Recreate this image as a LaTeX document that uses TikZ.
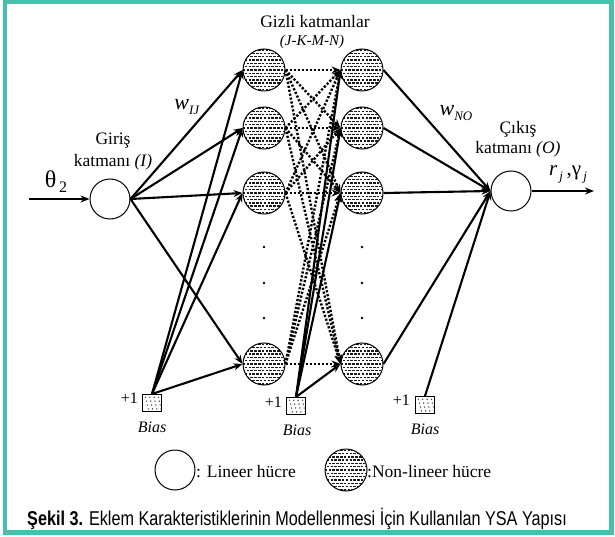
\documentclass[tikz,border=0pt]{standalone}
\usepackage{fontspec}
\setmainfont{Liberation Serif}
\newfontfamily\capfont[FakeStretch=0.81]{Liberation Sans}
\usetikzlibrary{arrows.meta,calc}
\definecolor{frameteal}{RGB}{72,190,172}
\newcommand{\fsz}[1]{\fontsize{#1}{#1}\selectfont}

\begin{document}
\begin{tikzpicture}[x=1pt,y=-1pt,
  lin/.style={circle,draw,line width=1pt,minimum size=40pt,inner sep=0pt,fill=white},
  nonlin/.style={circle,draw,line width=1pt,minimum size=42pt,inner sep=0pt,fill=white,
    path picture={
      \foreach \k in {-6,-4,...,6}
        \draw[line width=1.4pt,dash pattern=on 2.5pt off 1.3pt,black!90]
          ([shift={(-25,\k*3.3)}]path picture bounding box.center) --
          ([shift={(25,\k*3.3)}]path picture bounding box.center);
      \foreach \k in {-5,-3,...,5}
        \draw[line width=1.4pt,dash pattern=on 2.5pt off 1.3pt,dash phase=1.9pt,black!90]
          ([shift={(-25,\k*3.3)}]path picture bounding box.center) --
          ([shift={(25,\k*3.3)}]path picture bounding box.center);
    }},
  biasbox/.style={draw,line width=1pt,minimum width=19pt,minimum height=17pt,inner sep=0pt,fill=white,
    path picture={
      \foreach \i in {0,...,3}
        \foreach \j in {0,...,3}
          \fill[black!85] ([shift={(-6.5+\i*4.3+\j*0.9,-5.8+\j*3.9)}]path picture bounding box.center) circle (0.7);
    }},
  conn/.style={line width=2.1pt,-{Stealth[length=9pt,width=7pt,inset=3pt]}},
  dconn/.style={conn,line width=2.4pt,dash pattern=on 2.2pt off 1.8pt},
  lbl/.style={inner sep=0pt,font=\fsz{17.5}},
  small/.style={inner sep=0pt,font=\fsz{16}},
  vdot/.style={circle,fill,inner sep=0pt,minimum size=2.8pt}
]
\useasboundingbox (0,0) rectangle (615,537);
\fill[white] (0,0) rectangle (615,537);
\draw[frameteal,line width=4.5pt] (5,1.5) rectangle (611.5,532.5);

% input and output cells
\node[lin] (in) at (110,199) {};
\node[lin] (out) at (511,191) {};

% hidden layers
\foreach \n/\y in {1/70,2/128,3/193,4/364} {
  \node[nonlin] (h\n) at (264,\y) {};
  \node[nonlin] (g\n) at (362,\y) {};
}
\foreach \y [count=\i] in {247,283,318} {
  \node[vdot] (dh\i) at (264,\y) {};
  \node[vdot] (dg\i) at (362,\y) {};
}

% bias units
\node[biasbox] (b1) at (152,403) {};
\node[biasbox] (b2) at (296,406) {};
\node[biasbox] (b3) at (425,405) {};
\node[small,anchor=east] (p1) at (138,398) {+1};
\node[small,anchor=east] (p2) at (282,402) {+1};
\node[small,anchor=east] (p3) at (410,400) {+1};
\node[small,font=\fsz{16}\itshape] (bl1) at (152,427) {Bias};
\node[small,font=\fsz{16}\itshape] (bl2) at (297,430) {Bias};
\node[small,font=\fsz{16}\itshape] (bl3) at (425,429) {Bias};

% connections into the first hidden layer
\foreach \n in {1,...,4} {
  \draw[conn] (in.east) -- (h\n.west);
  \draw[conn] (b1.north) -- (h\n.west);
}
% dotted connections between hidden layers
\foreach \a in {1,...,4}
  \foreach \b in {1,...,4}
    \draw[dconn] (h\a.east) -- (g\b.west);
% second hidden layer bias and output connections
\foreach \n in {1,...,4} {
  \draw[conn] (b2.north) -- (g\n.west);
  \draw[conn] (g\n.east) -- (out.west);
}
\draw[conn] (b3.north) -- (out.west);

% external input and output
\coordinate (src) at (29,199);
\coordinate (dst) at (594,191);
\draw[conn] (src) -- (in.west);
\draw[conn] (out.east) -- (dst);

% labels
\node[lbl] (t1) at (315,22) {Gizli katmanlar};
\node[small,font=\fsz{15}\itshape] (t2) at (312,42) {(J-K-M-N)};
\node[lbl] (t3) at (113,141) {Giriş};
\node[lbl] (t4) at (113,162) {katmanı \textit{(I)}};
\node[lbl] (t5) at (518,129) {Çıkış};
\node[lbl] (t6) at (518,149) {katmanı \textit{(O)}};
\node[inner sep=0pt] (th) at (56,182) {\fsz{24}θ\raisebox{-5pt}{\fsz{16}\,2}};
\node[inner sep=0pt] (wij) at (187,107) {\fsz{22}\textit{w}\raisebox{-5pt}{\fsz{13}\textit{IJ}}};
\node[inner sep=0pt] (wno) at (456,113) {\fsz{22}\textit{w}\raisebox{-5pt}{\fsz{13}\textit{NO}}};
\node[inner sep=0pt] (rg) at (568,174) {\fsz{21}\textit{r}\raisebox{-5pt}{\fsz{13}\,\textit{j}}\,,γ\raisebox{-5pt}{\fsz{13}\,\textit{j}}};

% legend
\node[lin] (lg1) at (175,470) {};
\node[lbl,anchor=west] (lt1) at (196,472) {: Lineer hücre};
\node[nonlin] (lg2) at (346,470) {};
\node[lbl,anchor=west] (lt2) at (367,472) {:Non-lineer hücre};

% caption
\node[inner sep=0pt,anchor=base west] (cap) at (27,525)
  {\capfont\fsz{20}\textbf{Şekil 3.} Eklem Karakteristiklerinin Modellenmesi İçin Kullanılan YSA Yapısı};
\end{tikzpicture}
\end{document}
